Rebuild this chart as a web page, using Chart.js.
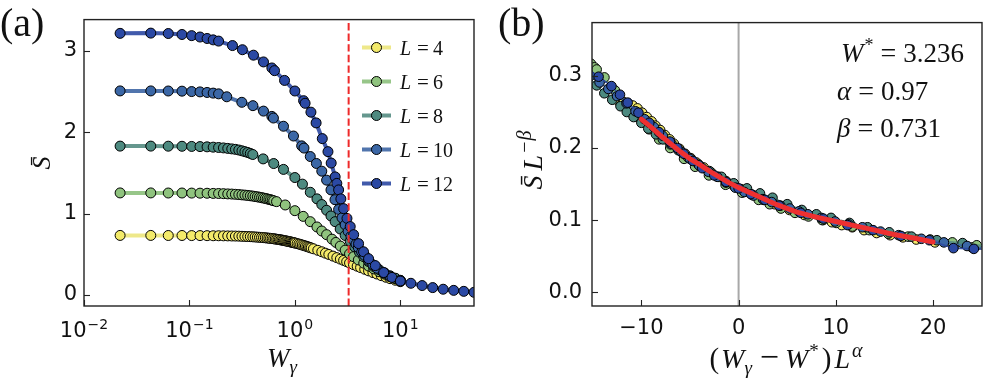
<!DOCTYPE html>
<html><head><meta charset="utf-8">
<script src="https://cdn.jsdelivr.net/npm/chart.js@4.4.0/dist/chart.umd.min.js"></script>
<style>
html,body{margin:0;padding:0;background:#fff;}
#wrap{position:relative;width:997px;height:386px;overflow:hidden;background:#fff;}
canvas{position:absolute;top:0;}
#ca{left:0;} #cb{left:490px;}
</style></head><body>
<div id="wrap"><canvas id="ca" width="490" height="386"></canvas><canvas id="cb" width="507" height="386"></canvas></div>
<script>
// ---------------- Panel (a) data: W_gamma vs S-bar ----------------
const W4 = [0.022,0.043,0.063,0.085,0.105,0.126,0.147,0.168,0.189,0.21,
0.231,0.252,0.273,0.294,0.315,0.336,0.357,0.378,0.399,0.42,
0.441,0.462,0.483,0.504,0.525,0.546,0.567,0.588,0.609,0.63,
0.651,0.672,0.693,0.714,0.735,0.756,0.777,0.798,0.819,0.84,
0.861,0.882,0.903,0.924,0.945,0.966,0.987,1.008,1.05,1.092,
1.134,1.176,1.218,1.26,1.302,1.344,1.386,1.428,1.5,1.65,
1.8,1.95,2.1,2.3,2.5,2.7,2.9,3.1,3.3,3.6,
3.9,4.2,4.6,5.0,5.5,6.0,6.6,7.3,8.0,9.0,10.0];
const S4 = [0.731,0.731,0.730,0.730,0.729,0.729,0.728,0.727,0.727,0.726,
0.725,0.724,0.723,0.722,0.720,0.719,0.717,0.716,0.714,0.712,
0.710,0.708,0.706,0.704,0.702,0.699,0.697,0.695,0.692,0.690,
0.687,0.684,0.682,0.679,0.676,0.673,0.670,0.667,0.664,0.661,
0.658,0.655,0.652,0.649,0.646,0.643,0.640,0.637,0.631,0.625,
0.619,0.613,0.607,0.601,0.595,0.589,0.583,0.577,0.567,0.548,
0.530,0.513,0.497,0.477,0.458,0.440,0.424,0.408,0.393,0.372,
0.353,0.336,0.315,0.296,0.275,0.257,0.237,0.217,0.200,0.180,0.163];

const W6 = [0.022,0.043,0.063,0.085,0.105,0.126,0.147,0.168,0.189,0.21,
0.231,0.252,0.273,0.294,0.315,0.336,0.357,0.378,0.399,0.42,
0.441,0.462,0.483,0.504,0.525,0.546,0.567,0.588,0.609,0.63,
0.67,0.81,1.0,1.2,1.4,1.62,1.8,2.0,2.25,2.45,2.7,3.0,3.3,3.6,4.0,4.5,5.0,5.6,6.3,7.1,8.0,9.0,10.0];
const S6 = [1.253,1.253,1.252,1.252,1.251,1.250,1.249,1.247,1.246,1.244,
1.241,1.239,1.236,1.233,1.229,1.226,1.222,1.218,1.214,1.209,
1.205,1.200,1.195,1.190,1.185,1.180,1.174,1.169,1.163,1.157,
1.146,1.105,1.035,0.965,0.900,0.835,0.785,0.740,0.685,0.645,0.600,0.550,0.505,0.470,0.430,0.390,0.355,0.320,0.285,0.255,0.225,0.198,0.175];

const W8 = [0.022,0.043,0.063,0.085,0.105,0.126,0.147,0.168,0.189,0.21,
0.231,0.252,0.273,0.294,0.315,0.336,0.357,0.378,0.399,
0.5,0.63,0.78,1.0,1.18,1.4,1.62,1.8,2.0,2.2,2.41,2.69,3.0,3.35,3.7,4.1,4.5,5.0,5.6,6.3,7.1,8.0,9.0,10.0];
const S8 = [1.828,1.828,1.827,1.826,1.824,1.822,1.819,1.815,1.811,1.806,
1.800,1.794,1.788,1.780,1.770,1.760,1.750,1.738,1.725,
1.671,1.614,1.542,1.442,1.361,1.261,1.180,1.110,1.040,0.970,0.900,0.810,0.730,0.660,0.590,0.525,0.470,0.410,0.350,0.310,0.270,0.235,0.205,0.180];

const W10 = [0.022,0.043,0.063,0.085,0.105,0.126,0.147,0.168,0.189,
0.226,0.314,0.40,0.504,0.605,0.626,0.78,0.97,1.16,1.22,
1.40,1.6,1.8,2.0,2.2,2.4,2.6,2.8,3.0,3.2,
3.4,3.6,3.8,4.0,4.3,4.6,5.0,5.5,6.0,7.0,8.0,10.0];
const S10 = [2.506,2.506,2.505,2.503,2.498,2.494,2.487,2.479,2.470,
2.434,2.366,2.325,2.258,2.193,2.173,2.072,1.952,1.831,1.804,
1.700,1.615,1.520,1.410,1.290,1.170,1.050,0.947,0.861,0.780,
0.721,0.673,0.624,0.581,0.527,0.484,0.425,0.371,0.328,0.270,0.225,0.175];

const W12 = [0.022,0.043,0.063,0.085,0.105,0.126,0.147,0.168,0.189,
0.256,0.318,0.405,0.504,0.605,0.641,0.798,1.0,1.21,1.25,
1.42,1.59,1.82,2.06,2.21,2.41,2.5,2.6,2.73,2.9,
3.12,3.35,3.61,4.02,4.48,5.0,5.79,6.95,8.33,10.0,
12.6,16.1,20.3,25.5,32.1,40.0,50.0];
const S12 = [3.213,3.216,3.211,3.199,3.185,3.168,3.150,3.133,3.118,
3.063,3.012,2.945,2.862,2.788,2.755,2.635,2.505,2.386,2.354,
2.245,2.113,1.920,1.760,1.620,1.450,1.370,1.290,1.180,1.060,
0.940,0.840,0.740,0.630,0.530,0.445,0.360,0.275,0.215,0.170,
0.143,0.115,0.090,0.070,0.056,0.044,0.032];

// ---------------- Panel (b) data: scaled collapse ----------------
const B4x = [-12.33,-11.85,-11.37,-10.89,-10.40,-9.92,-9.44,-8.95,-8.55,-8.07,-7.58,-7.10,-6.66,-6.09,-5.51,-4.93,-4.36,-3.59,-2.82,-2.06,-1.29,-0.52,0.25,1.40,2.55,3.70,5.23,6.77,8.69,9.6,10.61,11.7,12.91,14.2,15.59,16.9,18.28,20.2,22.12,24.0,25.95];
const B4y = [0.265,0.264,0.262,0.259,0.255,0.249,0.243,0.237,0.231,0.225,0.218,0.212,0.206,0.199,0.192,0.186,0.180,0.173,0.166,0.160,0.154,0.148,0.143,0.135,0.128,0.122,0.114,0.107,0.100,0.097,0.093,0.090,0.086,0.082,0.079,0.076,0.073,0.069,0.065,0.062,0.059];
const B6x = [-15.90,-15.55,-15.19,-14.83,-14.60,-13.80,-12.72,-11.58,-10.45,-9.20,-8.17,-7.03,-5.61,-4.47,-3.05,-1.34,0.36,2.07,3.2,4.35,5.8,7.19,8.6,10.04,11.7,13.45,15.4,17.44,19.7,21.99,24.5,27.10];
const B6y = [0.325,0.321,0.317,0.312,0.309,0.298,0.280,0.261,0.243,0.226,0.212,0.200,0.185,0.174,0.162,0.149,0.138,0.128,0.122,0.116,0.110,0.105,0.100,0.096,0.091,0.086,0.081,0.077,0.073,0.069,0.065,0.061];
const B8x = [-15.46,-14.6,-13.81,-13.0,-12.15,-11.5,-10.80,-10.0,-9.29,-8.5,-7.79,-7.0,-6.21,-5.2,-4.11,-3.0,-1.77,-0.5,0.86,2.2,3.49,5.0,6.50,8.0,9.51,11.4,13.27,15.5,17.78,20.4,23.04,26.0];
const B8y = [0.298,0.287,0.276,0.267,0.258,0.250,0.243,0.235,0.227,0.219,0.212,0.205,0.197,0.187,0.177,0.168,0.160,0.151,0.144,0.137,0.131,0.122,0.114,0.108,0.103,0.096,0.090,0.083,0.077,0.072,0.068,0.063];
const B10x = [-15.26,-14.3,-13.40,-12.5,-11.53,-10.6,-9.67,-8.7,-7.80,-6.9,-5.93,-5.0,-4.07,-3.1,-2.20,-1.3,-0.34,0.6,1.53,2.5,3.40,4.3,5.26,6.2,7.13,8.5,9.93,11.3,12.73,14.6,16.46,18.8,21.12,23.5,25.79];
const B10y = [0.300,0.291,0.282,0.272,0.262,0.251,0.240,0.229,0.217,0.206,0.195,0.185,0.176,0.167,0.160,0.152,0.145,0.139,0.134,0.129,0.125,0.120,0.116,0.112,0.108,0.103,0.098,0.094,0.090,0.084,0.079,0.074,0.069,0.064,0.061];
const B12x = [-15.75,-14.4,-13.08,-12.2,-11.41,-10.3,-9.19,-8.18,-7.07,-6.3,-5.63,-4.7,-3.74,-2.5,-1.29,0.0,1.27,2.7,4.16,6.4,8.72,11.2,13.83,16.7,19.62,22.1,24.2,28.4];
const B12y = [0.312,0.299,0.286,0.274,0.263,0.249,0.235,0.222,0.209,0.200,0.192,0.182,0.172,0.162,0.153,0.144,0.136,0.128,0.120,0.110,0.102,0.093,0.086,0.078,0.072,0.061,0.060,0.058];
const fitX = [-10,-9,-8,-7,-6,-5,-4,-3,-2,-1,0,2,4,6,8,10,12,14,16,18,20];
const fitY = [0.240,0.229,0.217,0.206,0.195,0.185,0.177,0.168,0.160,0.152,0.145,0.133,0.121,0.111,0.104,0.098,0.092,0.086,0.080,0.075,0.0695];

// ---------------- labels / ticks ----------------
const sizesL = ['4','6','8','10','12'];
const aTickValues = [0.01, 0.1, 1, 10];
const aTickExponents = ['\u22122','\u22121','0','1'];
const aYTicks = [0,1,2,3];
const bXTicks = [-10,0,10,20];
const bYTicks = [0.0,0.1,0.2,0.3];
const W_STAR = 3.236;
const fitText = [['W','*','3.236'],['\u03b1','','0.97'],['\u03b2','','0.731']];

const fillCols = ['#f3ea6a','#8fc37e','#4d8a80','#3b67a6','#2b49a4'];
const lineCols = ['rgba(236,230,125,0.9)','rgba(140,192,124,0.9)','rgba(84,140,130,0.9)','rgba(62,102,164,0.9)','rgba(44,72,162,0.9)'];

const SERIF = 'Liberation Serif';
const SANS = 'DejaVu Sans';
const f = (sz, it) => (it ? 'italic ' : '') + sz + 'px "' + SERIF + '"';

function drawRich(ctx, segs, x, y, align){
  let w = 0; const ws = [];
  segs.forEach(s => { ctx.font = s[1]; const m = ctx.measureText(s[0]).width; ws.push(m); w += (s[3]||0) + m; });
  let cx = align === 'center' ? x - w/2 : (align === 'right' ? x - w : x);
  segs.forEach((s,i) => { cx += (s[3]||0); ctx.font = s[1]; ctx.fillText(s[0], cx, y + (s[2]||0)); cx += ws[i]; });
  return w;
}
function frameAndTicks(chart){
  const {ctx, chartArea:a, scales} = chart;
  ctx.save();
  ctx.strokeStyle = '#222'; ctx.lineWidth = 1.4;
  ctx.strokeRect(a.left, a.top, a.right - a.left, a.bottom - a.top);
  ctx.lineWidth = 1.1;
  scales.x.ticks.forEach(t => { const p = Math.round(scales.x.getPixelForValue(t.value)) + 0.5; ctx.beginPath(); ctx.moveTo(p, a.bottom); ctx.lineTo(p, a.bottom - 6); ctx.stroke(); });
  scales.y.ticks.forEach(t => { const p = Math.round(scales.y.getPixelForValue(t.value)) + 0.5; ctx.beginPath(); ctx.moveTo(a.left, p); ctx.lineTo(a.left + 6, p); ctx.stroke(); });
  ctx.restore();
}

// ---------------- Chart (a) ----------------
const seriesA = [[W4,S4],[W6,S6],[W8,S8],[W10,S10],[W12,S12]];
const decorA = {
  id: 'decorA',
  afterDatasetsDraw(chart){
    const {ctx, chartArea:a, scales:{x}} = chart;
    const px = x.getPixelForValue(W_STAR);
    ctx.save();
    ctx.strokeStyle = '#ee2a2a'; ctx.lineWidth = 2; ctx.setLineDash([7.4,3.2]);
    ctx.beginPath(); ctx.moveTo(px, a.bottom); ctx.lineTo(px, a.top); ctx.stroke();
    ctx.restore();
  },
  afterDraw(chart){
    const {ctx, scales:{x}} = chart;
    frameAndTicks(chart);
    ctx.save();
    ctx.fillStyle = '#111'; ctx.textBaseline = 'alphabetic';
    aTickValues.forEach((v,i) => {
      const px = x.getPixelForValue(v);
      drawRich(ctx, [['10', '21px "'+SANS+'"'], [aTickExponents[i], '14px "'+SANS+'"', -8, 1]], px, 337, 'center');
    });
    for (let i = 0; i < 5; i++){
      const yb = 55 + 34*i, ym = yb - 7.5;
      ctx.strokeStyle = lineCols[i]; ctx.lineWidth = 4; ctx.setLineDash([]);
      ctx.beginPath(); ctx.moveTo(362, ym); ctx.lineTo(391, ym); ctx.stroke();
      ctx.beginPath(); ctx.arc(376.5, ym, 5, 0, Math.PI*2); ctx.fillStyle = fillCols[i]; ctx.fill();
      ctx.strokeStyle = '#000'; ctx.lineWidth = 1; ctx.stroke();
      ctx.fillStyle = '#111';
      drawRich(ctx, [['L', f(20,true)], ['=', f(21), 0, 6], [sizesL[i], f(20), 0, 4]], 400, yb, 'left');
    }
    drawRich(ctx, [['W', f(27,true)], ['\u03b3', f(19,true), 6, 0]], 282, 367, 'center');
    ctx.save(); ctx.translate(50, 163); ctx.rotate(-Math.PI/2);
    drawRich(ctx, [['S\u0304', f(26,true)]], 0, 0, 'center');
    ctx.restore();
    drawRich(ctx, [['(a)', f(40)]], 0, 36, 'left');
    ctx.restore();
  }
};
new Chart(document.getElementById('ca'), {
  type: 'scatter',
  data: { datasets: seriesA.map((s,i) => ({
    label: 'L = ' + sizesL[i],
    data: s[0].map((w,j) => ({x: w, y: s[1][j]})),
    showLine: true, tension: 0, borderColor: lineCols[i], borderWidth: 4,
    pointBackgroundColor: fillCols[i], pointBorderColor: '#000', pointBorderWidth: 1, pointRadius: 5,
    order: 5 - i
  }))},
  options: {
    responsive: false, devicePixelRatio: 1, animation: false,
    layout: { padding: { left: 0, right: 16, top: 14, bottom: 0 } },
    plugins: { legend: { display: false }, tooltip: { enabled: false } },
    scales: {
      x: { type: 'logarithmic', min: 0.01, max: 50,
           grid: { display: false, drawTicks: false }, border: { display: false },
           ticks: { display: false },
           afterBuildTicks: s => { s.ticks = aTickValues.map(v => ({value: v})); },
           afterFit: s => { s.height = 80; } },
      y: { type: 'linear', min: -0.136, max: 3.382,
           grid: { display: false, drawTicks: false }, border: { display: false },
           ticks: { font: { family: SANS, size: 21 }, color: '#111', padding: 7 },
           afterBuildTicks: s => { s.ticks = aYTicks.map(v => ({value: v})); },
           afterFit: s => { s.width = 84; } }
    }
  },
  plugins: [decorA]
});

// ---------------- Chart (b) ----------------
const seriesB = [[B4x,B4y],[B6x,B6y],[B8x,B8y],[B10x,B10y],[B12x,B12y]];
const decorB = {
  id: 'decorB',
  beforeDatasetsDraw(chart){
    const {ctx, chartArea:a, scales:{x}} = chart;
    const px = x.getPixelForValue(0);
    ctx.save(); ctx.strokeStyle = '#a8a8a8'; ctx.lineWidth = 2;
    ctx.beginPath(); ctx.moveTo(px, a.top); ctx.lineTo(px, a.bottom); ctx.stroke(); ctx.restore();
  },
  afterDraw(chart){
    const {ctx} = chart;
    frameAndTicks(chart);
    ctx.save(); ctx.fillStyle = '#111'; ctx.textBaseline = 'alphabetic';
    const bases = [62, 100, 137];
    const starts = [351, 347, 347];
    fitText.forEach((r,i) => {
      const segs = [[r[0], f(27,true)]];
      if (r[1]) segs.push([r[1], f(18), -11, 1]);
      segs.push(['=', f(28), 0, 7]); segs.push([r[2], f(27), 0, 7]);
      drawRich(ctx, segs, starts[i], bases[i], 'left');
    });
    // x title
    drawRich(ctx, [['(', f(29)], ['W', f(28,true), 0, 2], ['\u03b3', f(19,true), 6, 0],
                   ['\u2212', f(34), 0, 8], ['W', f(28,true), 0, 6], ['*', f(19), -11, 1],
                   [')', f(29), 0, 3], ['L', f(28,true), 0, 3], ['\u03b1', f(20,true), -11, 2]], 296, 368, 'center');
    // y title
    ctx.save(); ctx.translate(52, 160); ctx.rotate(-Math.PI/2);
    drawRich(ctx, [['S\u0304', f(28,true)], ['L', f(28,true), 0, 5], ['\u2212', f(20), -11, 2], ['\u03b2', f(20,true), -11, 1]], 0, 0, 'center');
    ctx.restore();
    drawRich(ctx, [['(b)', f(40)]], 8, 36, 'left');
    ctx.restore();
  }
};
const dsB = seriesB.map((s,i) => ({
  label: 'L = ' + sizesL[i],
  data: s[0].map((v,j) => ({x: v, y: s[1][j]})),
  showLine: true, tension: 0, borderColor: lineCols[i], borderWidth: 1.6,
  pointBackgroundColor: fillCols[i], pointBorderColor: '#000', pointBorderWidth: 1, pointRadius: 4.8,
  order: 6 - i
}));
dsB.push({
  label: 'fit', data: fitX.map((v,j) => ({x: v, y: fitY[j]})),
  showLine: true, tension: 0, borderColor: '#ee3030', borderWidth: 5, pointRadius: 0, order: 0,
  borderCapStyle: 'round', borderJoinStyle: 'round'
});
new Chart(document.getElementById('cb'), {
  type: 'scatter',
  data: { datasets: dsB },
  options: {
    responsive: false, devicePixelRatio: 1, animation: false,
    layout: { padding: { left: 0, right: 15, top: 14, bottom: 0 } },
    plugins: { legend: { display: false }, tooltip: { enabled: false } },
    scales: {
      x: { type: 'linear', min: -15.08, max: 25.04,
           grid: { display: false, drawTicks: false }, border: { display: false },
           ticks: { font: { family: SANS, size: 21 }, color: '#111', padding: 10,
                    callback: v => (v < 0 ? '\u2212' + Math.abs(v) : String(v)) },
           afterBuildTicks: s => { s.ticks = bXTicks.map(v => ({value: v})); },
           afterFit: s => { s.height = 80; } },
      y: { type: 'linear', min: -0.0193, max: 0.3741,
           grid: { display: false, drawTicks: false }, border: { display: false },
           ticks: { font: { family: SANS, size: 21 }, color: '#111', padding: 10,
                    callback: v => v.toFixed(1) },
           afterBuildTicks: s => { s.ticks = bYTicks.map(v => ({value: v})); },
           afterFit: s => { s.width = 102; } }
    }
  },
  plugins: [decorB]
});
</script></body></html>
